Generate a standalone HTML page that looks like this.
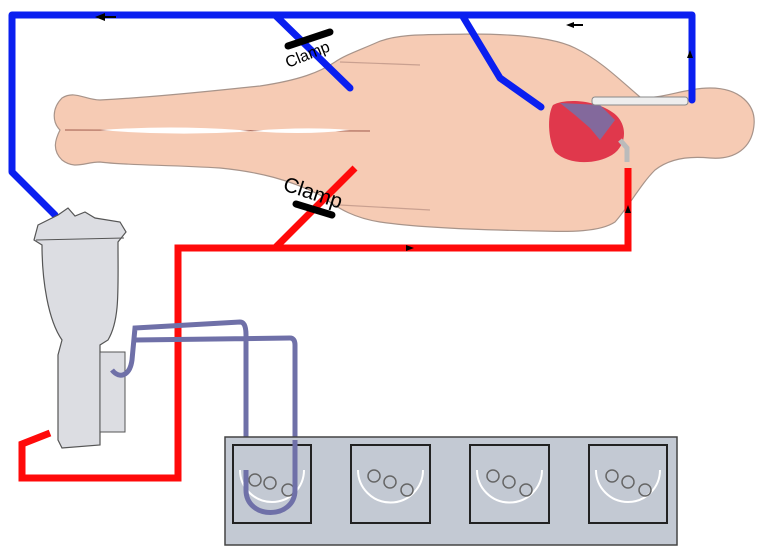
<!DOCTYPE html>
<html><head><style>body{margin:0;background:#fff}svg{display:block}</style></head><body>
<svg width="768" height="559" viewBox="0 0 768 559" xmlns="http://www.w3.org/2000/svg">
<!-- body -->
<path d="M62,98 C75,90 85,100 100,100 C160,97 220,90 260,86 C300,80 320,72 335,62 C345,55 360,50 378,42 C400,33 430,35 470,34 C520,34 555,38 575,48 C600,60 620,80 640,97 C660,100 685,88 710,88 C740,88 756,105 754,125 C752,148 735,160 710,158 C690,156 670,158 655,170 C640,185 630,205 615,222 C600,232 570,232 540,231 C480,230 420,228 380,222 C355,218 340,210 320,195 C290,180 260,172 220,168 C170,165 120,165 100,162 C85,162 75,170 62,160 C52,150 55,140 60,130 C52,122 52,108 62,98 Z" fill="#f6cbb4" stroke="#a8948a" stroke-width="1.2"/>
<path d="M65,130 L370,131" stroke="#b07060" stroke-width="1.2"/>
<path d="M100,130 Q170,125 240,130 Q300,136 350,130 Q300,126 240,132 Q170,136 100,130Z" fill="#fff"/>
<path d="M340,62 L420,65 M340,205 L430,210" stroke="#c9a090" stroke-width="1.2" fill="none"/>
<!-- heart -->
<path d="M553,105 C565,98 595,100 612,112 C628,122 628,145 612,155 C595,165 568,165 555,152 C548,140 547,115 553,105 Z" fill="#e0384c"/>
<path d="M560,103 L600,105 L615,120 L600,140 L590,128 L575,115 Z" fill="#6b76b0" opacity="0.8"/>
<path d="M620,140 L627,148 L627,162" stroke="#bbb" stroke-width="5" fill="none"/>
<!-- cannula -->
<rect x="592" y="97" width="96" height="8" rx="3" fill="#eee" stroke="#888"/>
<!-- blue lines -->
<g stroke="#0a1ff0" stroke-width="7" fill="none" stroke-linecap="round" stroke-linejoin="round">
<path d="M55,215 L12,172 L12,15 L692,15 L692,100"/>
<path d="M275,15 L350,88"/>
<path d="M462,15 L500,78 L541,107"/>
</g>
<!-- red lines -->
<g stroke="#ff0a0a" stroke-width="7" fill="none" stroke-linejoin="miter">
<path d="M50,433 L22,444 L22,478 L178,478 L178,248 L628,248 L628,168"/>
<path d="M275,248 L355,168"/>
</g>
<!-- arrows -->
<g fill="#000">
<path d="M95,17 L105,13 L105,21 Z"/><rect x="104" y="16" width="12" height="2"/>
<path d="M566,25 L574,22 L574,28 Z"/><rect x="573" y="24" width="10" height="2"/>
<path d="M690,50 L687,58 L693,58 Z"/>
<path d="M414,248 L406,245 L406,251 Z"/>
<path d="M628,205 L625,213 L631,213 Z"/>
</g>
<!-- clamps -->
<line x1="288" y1="46" x2="330" y2="32" stroke="#000" stroke-width="7" stroke-linecap="round"/>
<text x="288" y="68" font-family="Liberation Sans, sans-serif" font-size="16" transform="rotate(-22 288 68)">Clamp</text>
<line x1="296" y1="204" x2="332" y2="215" stroke="#000" stroke-width="7" stroke-linecap="round"/>
<text x="282" y="190" font-family="Liberation Sans, sans-serif" font-size="21" transform="rotate(18 282 190)">Clamp</text>
<!-- reservoir -->
<path d="M58,215 L68,208 L75,216 L85,212 L95,218 L120,222 L126,232 L118,242 C118,290 120,320 108,340 L100,345 L100,445 L62,448 L58,440 L58,355 L62,340 C48,320 42,280 42,245 L34,240 L38,225 Z" fill="#dcdde2" stroke="#555" stroke-width="1.2"/>
<path d="M36,240 L124,238" stroke="#555"/>
<rect x="100" y="352" width="25" height="80" fill="#dcdde2" stroke="#555"/>
<!-- purple tubes -->
<g stroke="#6f70a8" stroke-width="5" fill="none">
<path d="M112,370 C120,380 130,375 132,360 L135,328 L240,322 C245,322 246,328 246,335 L246,490 C246,520 295,520 295,490 L295,345 C295,340 293,338 290,338 L135,340"/>
</g>
<!-- console -->
<rect x="225" y="437" width="452" height="108" fill="#c3c9d3" stroke="#444" stroke-width="1.5"/>
<g fill="none" stroke="#222" stroke-width="2">
<rect x="233" y="445" width="78" height="78"/>
<rect x="351" y="445" width="79" height="78"/>
<rect x="470" y="445" width="79" height="78"/>
<rect x="589" y="445" width="78" height="78"/>
</g>
<g fill="none" stroke="#fff" stroke-width="2">
<path d="M240,470 A32,32 0 0 0 304,470"/>
<path d="M358,470 A32,32 0 0 0 423,470"/>
<path d="M477,470 A32,32 0 0 0 542,470"/>
<path d="M596,470 A32,32 0 0 0 660,470"/>
</g>
<g fill="none" stroke="#666" stroke-width="1.5">
<circle cx="255" cy="480" r="6"/><circle cx="270" cy="483" r="6"/><circle cx="288" cy="490" r="6"/>
<circle cx="374" cy="476" r="6"/><circle cx="390" cy="482" r="6"/><circle cx="407" cy="490" r="6"/>
<circle cx="493" cy="476" r="6"/><circle cx="509" cy="482" r="6"/><circle cx="526" cy="490" r="6"/>
<circle cx="612" cy="476" r="6"/><circle cx="628" cy="482" r="6"/><circle cx="645" cy="490" r="6"/>
</g>
<path d="M246,470 L246,490 C246,520 295,520 295,490 L295,440" stroke="#6f70a8" stroke-width="5" fill="none"/>
</svg>
</body></html>
